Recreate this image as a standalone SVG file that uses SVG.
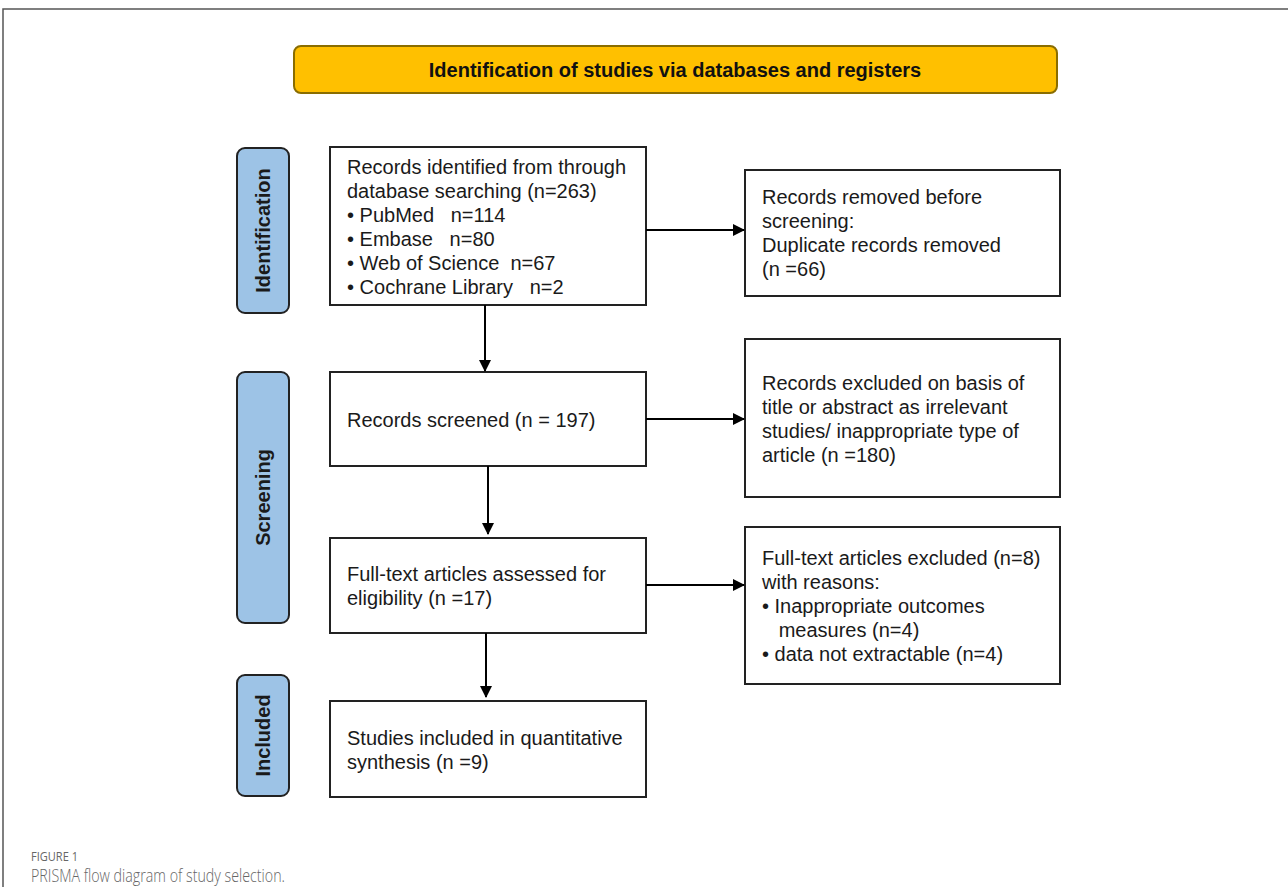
<svg xmlns="http://www.w3.org/2000/svg" width="1288" height="887" viewBox="0 0 1288 887">
<defs>
<marker id="ah" markerWidth="12" markerHeight="12" refX="11" refY="6" orient="auto" markerUnits="userSpaceOnUse"><path d="M0,0 L12,6 L0,12 z" fill="#000"/></marker>
<style>
.box{fill:#fff;stroke:#222;stroke-width:2}
.lab{fill:#9DC3E6;stroke:#222;stroke-width:2}
.t{font-family:"Liberation Sans",Arial,sans-serif;font-size:20px;fill:#1a1a1a;white-space:pre}
.lt{font-family:"Liberation Sans",Arial,sans-serif;font-size:20px;font-weight:bold;fill:#1a1a1a}
.conn{stroke:#000;stroke-width:2;fill:none}
</style>
</defs>
<rect width="1288" height="887" fill="#fff"/>
<path d="M3,887 V9 H1288" fill="none" stroke="#555" stroke-width="1.5"/>
<g id="banner">
<rect x="294" y="46" width="763" height="47" rx="7" fill="#FFC000" stroke="#8a6d00" stroke-width="2"/>
<text x="675" y="77" text-anchor="middle" font-family="'Liberation Sans',Arial,sans-serif" font-size="20" font-weight="bold" fill="#111">Identification of studies via databases and registers</text>
</g>
<g id="label-identification">
<rect class="lab" x="237" y="148" width="52" height="165" rx="8"/>
<text class="lt" transform="translate(270,230.5) rotate(-90)" text-anchor="middle">Identification</text>
</g>
<g id="label-screening">
<rect class="lab" x="237" y="372" width="52" height="251" rx="8"/>
<text class="lt" transform="translate(270,497.5) rotate(-90)" text-anchor="middle">Screening</text>
</g>
<g id="label-included">
<rect class="lab" x="237" y="675" width="52" height="121" rx="8"/>
<text class="lt" transform="translate(270,735.5) rotate(-90)" text-anchor="middle">Included</text>
</g>
<g id="box-identified">
<rect class="box" x="330" y="147" width="316" height="158"/>
<text class="t" x="347" y="174" xml:space="preserve">Records identified from through</text>
<text class="t" x="347" y="198" xml:space="preserve">database searching (n=263)</text>
<text class="t" x="347" y="222" xml:space="preserve">• PubMed   n=114</text>
<text class="t" x="347" y="246" xml:space="preserve">• Embase   n=80</text>
<text class="t" x="347" y="270" xml:space="preserve">• Web of Science  n=67</text>
<text class="t" x="347" y="294" xml:space="preserve">• Cochrane Library   n=2</text>
</g>
<g id="box-removed">
<rect class="box" x="745" y="170" width="315" height="126"/>
<text class="t" x="762" y="204">Records removed before</text>
<text class="t" x="762" y="228">screening:</text>
<text class="t" x="762" y="252">Duplicate records removed</text>
<text class="t" x="762" y="276">(n =66)</text>
</g>
<g id="box-screened">
<rect class="box" x="330" y="372" width="316" height="94"/>
<text class="t" x="347" y="427">Records screened (n = 197)</text>
</g>
<g id="box-excluded">
<rect class="box" x="745" y="339" width="315" height="158"/>
<text class="t" x="762" y="390">Records excluded on basis of</text>
<text class="t" x="762" y="414">title or abstract as irrelevant</text>
<text class="t" x="762" y="438">studies/ inappropriate type of</text>
<text class="t" x="762" y="462">article (n =180)</text>
</g>
<g id="box-fulltext">
<rect class="box" x="330" y="538" width="316" height="95"/>
<text class="t" x="347" y="581">Full-text articles assessed for</text>
<text class="t" x="347" y="605">eligibility (n =17)</text>
</g>
<g id="box-ft-excluded">
<rect class="box" x="745" y="527" width="315" height="157"/>
<text class="t" x="762" y="565">Full-text articles excluded (n=8)</text>
<text class="t" x="762" y="589">with reasons:</text>
<text class="t" x="762" y="613">• Inappropriate outcomes</text>
<text class="t" x="762" y="637" xml:space="preserve">   measures (n=4)</text>
<text class="t" x="762" y="661">• data not extractable (n=4)</text>
</g>
<g id="box-included">
<rect class="box" x="330" y="701" width="316" height="96"/>
<text class="t" x="347" y="745">Studies included in quantitative</text>
<text class="t" x="347" y="769">synthesis (n =9)</text>
</g>
<g id="connectors">
<line class="conn" x1="646" y1="230" x2="744" y2="230" marker-end="url(#ah)"/>
<line class="conn" x1="485" y1="305" x2="485" y2="371" marker-end="url(#ah)"/>
<line class="conn" x1="646" y1="419" x2="744" y2="419" marker-end="url(#ah)"/>
<line class="conn" x1="488" y1="466" x2="488" y2="534" marker-end="url(#ah)"/>
<line class="conn" x1="646" y1="585" x2="744" y2="585" marker-end="url(#ah)"/>
<line class="conn" x1="486" y1="633" x2="486" y2="697" marker-end="url(#ah)"/>
</g>
<g id="caption">
<text x="31" y="861" font-family="'Open Sans','Noto Sans',sans-serif" font-size="13.5" fill="#666" textLength="47" lengthAdjust="spacingAndGlyphs">FIGURE 1</text>
<text x="31" y="882" font-family="'Open Sans','Noto Sans',sans-serif" font-size="18" font-weight="300" fill="#666" textLength="254" lengthAdjust="spacingAndGlyphs">PRISMA flow diagram of study selection.</text>
</g>
</svg>
